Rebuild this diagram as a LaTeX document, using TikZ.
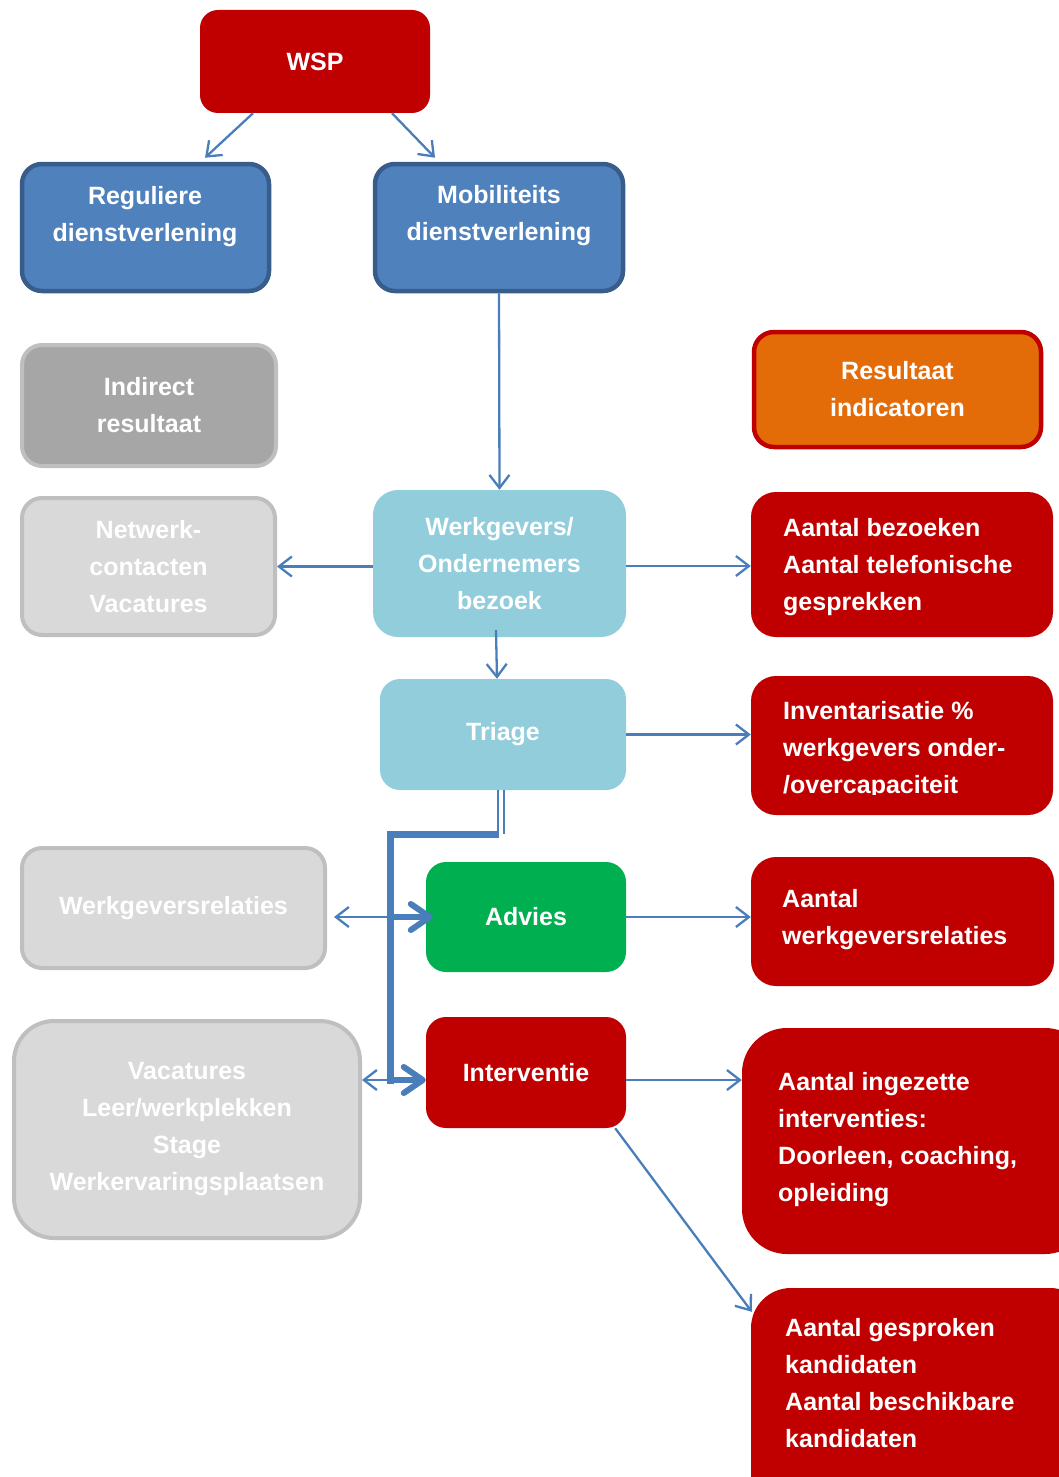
\documentclass[tikz,border=0pt]{standalone}
\usepackage{fontspec}
\setmainfont{Liberation Sans}
\usetikzlibrary{arrows.meta,calc}
\definecolor{wred}{HTML}{C00000}
\definecolor{wblue}{HTML}{4F81BD}
\definecolor{wblueb}{HTML}{385D8A}
\definecolor{wgreyd}{HTML}{A6A6A6}
\definecolor{wgreyl}{HTML}{D9D9D9}
\definecolor{wgreyb}{HTML}{BFBFBF}
\definecolor{worange}{HTML}{E36C09}
\definecolor{wlblue}{HTML}{92CDDC}
\definecolor{wgreen}{HTML}{00B050}
\definecolor{wline}{HTML}{4A7EBB}
\begin{document}
\begin{tikzpicture}[x=1pt,y=-1pt,
  box/.style={rounded corners=20pt, inner sep=0pt, align=center, text=white,
    font=\bfseries\fontsize{25}{37}\selectfont},
  txt/.style={inner sep=0pt, align=center, text=white, font=\bfseries\fontsize{25}{37}\selectfont},
  ltxt/.style={inner sep=0pt, align=left, anchor=west, text=white, font=\bfseries\fontsize{25}{37}\selectfont},
  bluebox/.style={box, fill=wblue, draw=wblueb, line width=4.5pt},
  greybox/.style={box, fill=wgreyl, draw=wgreyb, line width=4pt},
  redbox/.style={box, fill=wred},
  conn/.style={draw=wline, line width=2.3pt, -{Straight Barb[length=13pt,width=20pt]}},
  thin/.style={draw=wline, line width=2pt},
  thickline/.style={draw=wline, line width=7pt},
  tarrow/.style={draw=wline, line width=6pt, line cap=round, -{Straight Barb[length=19pt,width=26pt,round]}}]
\useasboundingbox (0,0) rectangle (1059,1477);
\clip (0,0) rectangle (1059,1477);

% boxes
\node[redbox, rounded corners=18pt, minimum width=230pt, minimum height=103pt] (wsp) at (315,61.5) {WSP};
\node[bluebox, minimum width=247pt, minimum height=127pt] (reg) at (145.5,227.5) {};
\node[txt] (regt) at (145,216.5) {Reguliere\\dienstverlening};
\node[bluebox, minimum width=248pt, minimum height=127pt] (mob) at (499,227.5) {};
\node[txt] (mobt) at (499,215.5) {Mobiliteits\\dienstverlening};
\node[box, fill=wgreyd, draw=wgreyb, line width=4pt, minimum width=254pt, minimum height=121pt] (ind) at (149,405.5) {Indirect\\resultaat};
\node[box, fill=worange, draw=wred, line width=4.5pt, minimum width=287pt, minimum height=115pt] (res) at (897.5,389.5) {Resultaat\\indicatoren};
\node[box, fill=wlblue, rounded corners=25pt, minimum width=253pt, minimum height=147pt] (wg) at (499.5,563.5) {Werkgevers/\\Ondernemers\\bezoek};
\node[greybox, minimum width=253pt, minimum height=137pt] (net) at (148.5,566.5) {Netwerk-\\contacten\\ Vacatures};
\node[redbox, rounded corners=25pt, minimum width=302pt, minimum height=145pt] (bez) at (902,564.5) {};
\node[ltxt] (bezt) at (783,567) {Aantal bezoeken\\Aantal telefonische\\gesprekken};
\node[box, fill=wlblue, minimum width=246pt, minimum height=111pt] (tri) at (503,734.5) {Triage};
\node[redbox, rounded corners=25pt, minimum width=302pt, minimum height=139pt] (inv) at (902,745.5) {};
\begin{scope}
\clip (760,690) rectangle (1050,794);
\node[ltxt] (invt) at (783,750) {Inventarisatie \%\\werkgevers onder-\\/overcapaciteit};
\end{scope}
\node[greybox, minimum width=303pt, minimum height=120pt] (wgr) at (173.5,908) {Werkgeversrelaties};
\node[box, fill=wgreen, minimum width=200pt, minimum height=110pt] (adv) at (526,917) {Advies};
\node[redbox, rounded corners=25pt, minimum width=303pt, minimum height=129pt] (awr) at (902.5,921.5) {};
\node[ltxt] (awrt) at (782,919.5) {Aantal\\werkgeversrelaties};
\node[greybox, rounded corners=40pt, minimum width=346pt, minimum height=217pt] (vac) at (187,1129.5) {Vacatures\\Leer/werkplekken\\Stage\\Werkervaringsplaatsen};
\node[redbox, minimum width=200pt, minimum height=111pt] (int) at (526,1072.5) {Interventie};
\node[redbox, rounded corners=45pt, minimum width=348pt, minimum height=226pt] (ing) at (916,1141) {};
\node[ltxt] (ingt) at (778,1140) {Aantal ingezette\\interventies:\\Doorleen, coaching,\\opleiding};
\node[redbox, rounded corners=40pt, minimum width=339pt, minimum height=232pt] (ges) at (920.5,1404) {};
\node[ltxt] (gest) at (785,1383.5) {Aantal gesproken\\kandidaten\\Aantal beschikbare\\kandidaten};

% thin connectors
\draw[conn] ($(wsp.south)+(-62,0)$) -- ($(reg.north)+(59.5,-4)$);
\draw[conn] ($(wsp.south)+(77,0)$) -- ($(mob.north)+(-64,-4)$);
\draw[conn] (mob.south) -- (wg.north);
\draw[conn] (wg.west |- net.east) -- (net.east);
\coordinate (w1) at ($(wg.east)+(0,2.5)$);
\draw[conn] (w1) -- (w1 -| bez.west);
\draw[conn] ($(wg.south)+(-3.5,-7)$) -- ($(tri.north)+(-6,0)$);
\draw[conn] (tri.east) -- (tri.east -| inv.west);
\draw[conn] (adv.east) -- (adv.east -| awr.west);
\coordinate (i1) at ($(int.east)+(0,7.5)$);
\draw[conn] (i1) -- (i1 -| ing.west);
\draw[conn] ($(int.south east)+(-11,0)$) -- ($(ges.north west)+(1,24)$);

% triage split
\coordinate (t1) at ($(tri.south)+(-5,0)$);
\coordinate (t2) at ($(tri.south)+(1,0)$);
\coordinate (k) at (390,834);
\coordinate (kb) at (390,1084);
\coordinate (ja) at (k |- adv.west);
\coordinate (ji) at (k |- i1);
\draw[thin] (t1) -- (t1 |- k);
\draw[thin] (t2) -- (t2 |- k);
\draw[conn, shorten >=7pt] (ja) -- (ja -| wgr.east);
\draw[conn] (ji) -- (ji -| vac.east);
\draw[thickline] ($(t1 |- k)+(1,0)$) -- (k) -- (kb);
\draw[tarrow] (ja) -- ($(adv.west)+(7,0)$);
\draw[tarrow] (ji) -- (ji -| int.west);
\end{tikzpicture}
\end{document}
